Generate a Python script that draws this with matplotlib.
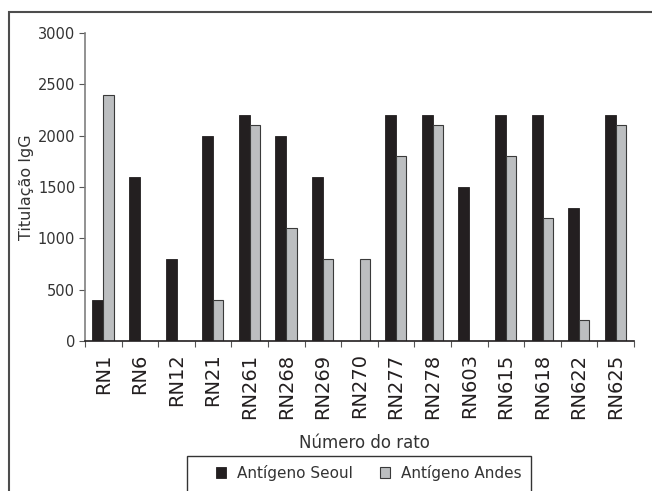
import matplotlib
matplotlib.use("Agg")
import matplotlib.pyplot as plt
from matplotlib.patches import Patch, Rectangle
import numpy as np

# data
ratos = ["RN1", "RN6", "RN12", "RN21", "RN261", "RN268", "RN269", "RN270",
         "RN277", "RN278", "RN603", "RN615", "RN618", "RN622", "RN625"]
seoul = [400, 1600, 800, 2000, 2200, 2000, 1600, 0,
         2200, 2200, 1500, 2200, 2200, 1300, 2200]
andes = [2400, 0, 0, 400, 2100, 1100, 800, 800,
         1800, 2100, 0, 1800, 1200, 200, 2100]
yticks = [0, 500, 1000, 1500, 2000, 2500, 3000]

BLACK = "#231f20"
GREY = "#bcbec0"
TXT = "#231f20"

plt.rcParams["font.family"] = ["DejaVu Sans"]

W, H = 652, 491
fig = plt.figure(figsize=(W / 100, H / 100), dpi=100)

# outer frame (cut off at right and bottom in the source)
fig.patches.append(Rectangle((9 / W, -0.1), 1.2, 1 - 12 / H + 0.1,
                             transform=fig.transFigure, fill=False,
                             edgecolor="#4d4d4d", lw=1.5, clip_on=False))

ax = fig.add_axes([85 / W, 1 - 341 / H, (634 - 85) / W, (341 - 33) / H])

x = np.arange(len(ratos)) + 0.5
bw = 0.3
ax.bar(x - bw / 2, seoul, width=bw, color=BLACK, edgecolor=BLACK, lw=0.6)
ax.bar(x + bw / 2 - 0.01, andes, width=bw - 0.02, color=GREY,
       edgecolor="#3a3a3a", lw=0.8)

ax.set_xlim(0, len(ratos))
ax.set_ylim(0, 3000)

for s in ["top", "right"]:
    ax.spines[s].set_visible(False)
ax.spines["left"].set_color("#7f7f7f")
ax.spines["left"].set_linewidth(1.2)
ax.spines["bottom"].set_color("#231f20")
ax.spines["bottom"].set_linewidth(1.2)

ax.set_xticks(np.arange(len(ratos) + 1))
ax.set_xticklabels([])
ax.set_xticks(x, minor=True)
ax.set_xticklabels(ratos, minor=True, rotation=90, fontsize=14, color=TXT)
ax.tick_params(axis="x", which="major", length=4, width=0.8, color="#555555",
               direction="out")
ax.tick_params(axis="x", which="minor", length=0, pad=9)

ax.set_yticks(yticks)
ax.set_yticklabels([str(v) for v in yticks], fontsize=10.5, color="#333333")
ax.tick_params(axis="y", length=4, width=0.8, color="#555555", pad=3)

ax.set_ylabel("Titulação IgG", fontsize=11.5, color="#333333")
ax.yaxis.set_label_coords((34 - 85) / (634 - 85), 0.5)
fig.text(364 / W, 1 - 443 / H, "Número do rato", fontsize=12, color="#333333",
         ha="center", va="center")

# legend with a box running off the bottom edge
fig.patches.append(Rectangle((187 / W, -0.1), (531 - 187) / W, 1 - 456 / H + 0.1,
                             transform=fig.transFigure, fill=False,
                             edgecolor="#333333", lw=1.0, clip_on=False))
handles = [Patch(facecolor=BLACK, edgecolor=BLACK, lw=0.6),
           Patch(facecolor=GREY, edgecolor="#3a3a3a", lw=0.8)]
fig.legend(handles, ["Antígeno Seoul", "Antígeno Andes"], ncol=2,
           loc="center", bbox_to_anchor=(369 / W, 1 - 473 / H),
           frameon=False, fontsize=11, handlelength=0.65, handleheight=0.7,
           handletextpad=0.7, columnspacing=1.8, labelcolor="#333333")

fig.savefig("out.png", dpi=100)
